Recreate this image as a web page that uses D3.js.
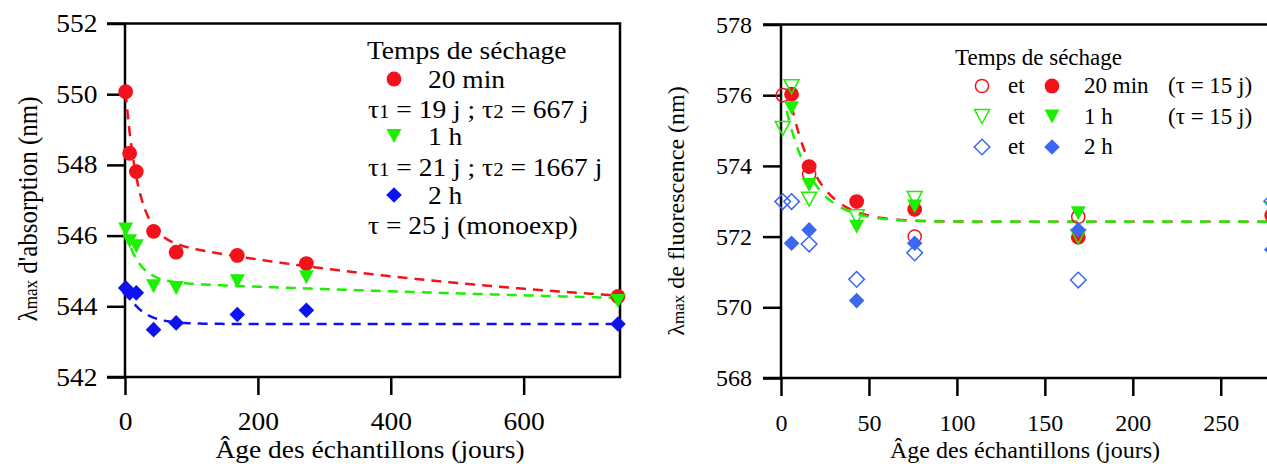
<!DOCTYPE html>
<html><head><meta charset="utf-8">
<script src="https://cdn.jsdelivr.net/npm/d3@7"></script>
<style>
body{margin:0;background:#fff}
svg{display:block}
svg text{font-family:"Liberation Serif","Times New Roman",serif;fill:#000}
</style></head><body>
<svg id="c" width="1267" height="464"></svg>
<script>
// ---------- Left panel: absorption ----------
const absDays = [1, 7, 17, 43, 77, 169, 273, 742];
const abs20min = [550.07, 548.33, 547.81, 546.12, 545.53, 545.44, 545.21, 544.28];
const abs1h    = [546.17, 545.84, 545.70, 544.57, 544.52, 544.71, 544.82, 544.15];
const abs2h    = [544.52, 544.38, 544.38, 543.34, 543.53, 543.77, 543.89, 543.50];
const absXTicks = [0, 200, 400, 600];
const absYTicks = [542, 544, 546, 548, 550, 552];
// fit parameters: [y0, A1, tau1, A2, tau2]
const absFit20min = [543.49, 4.31, 19, 2.476, 667];
const absFit1h    = [543.41, 1.47, 21, 1.29, 1667];
const absFit2h    = [543.50, 1.00, 25, 0, 1];

// ---------- Right panel: fluorescence ----------
const fluoDays = [1, 6, 16, 43, 76, 169, 279];
const fluoOpen20min   = [576.00, null, 573.77, null, 572.00, 572.56, null];
const fluoFilled20min = [null, 576.03, 573.98, 572.99, 572.77, 571.98, 572.60];
const fluoOpen1h      = [575.06, 576.24, 573.06, 572.56, 573.08, 572.00, null];
const fluoFilled1h    = [null, 575.63, 573.46, 572.28, 572.85, 572.66, 572.80];
const fluoOpen2h      = [572.99, 572.99, 571.79, 570.79, 571.54, 570.77, 573.00];
const fluoFilled2h    = [null, 571.81, 572.19, 570.19, 571.81, 572.19, 571.63];
const fluoXTicks = [0, 50, 100, 150, 200, 250];
const fluoYTicks = [568, 570, 572, 574, 576, 578];
// fit parameters: [y0, A, tau, tStart]
const fluoFit20min = [572.42, 4.9, 15, 6];
const fluoFit1h    = [572.42, 3.9, 15, 2];

const RED = "#f2121c", GREEN = "#1cf000", BLUE = "#0c12f2", BLUE2 = "#3a68f2";
const FS = 24, FSL = 25, SX = 1.1;
const FONT = '"Liberation Serif", "Times New Roman", serif';

const svg = d3.select("#c");

function markerPath(kind) {
  if (kind === "tri") { const w = 7.5, h = 7; return `M${-w},${-h}L${w},${-h}L0,${h}Z`; }
  if (kind === "dia") { const s = 7.8; return `M0,${-s}L${s},0L0,${s}L${-s},0Z`; }
  return null;
}
function drawMarker(g, x, y, kind, color, open) {
  let el;
  if (kind === "circ") {
    el = g.append("circle").attr("cx", x).attr("cy", y).attr("r", open ? 6.6 : 7.4);
  } else {
    el = g.append("path").attr("d", markerPath(kind)).attr("transform", `translate(${x},${y})`);
  }
  if (open) el.attr("fill", "none").attr("stroke", color).attr("stroke-width", 1.5);
  else el.attr("fill", color).attr("stroke", "none");
}
function styleAxis(g, stretch, size) {
  g.attr("font-size", size).style("font-family", FONT);
  g.select(".domain").remove();
  g.selectAll(".tick line").attr("stroke", "#000").attr("stroke-width", 2.5);
  g.selectAll(".tick text").attr("fill", "#000").style("font-family", FONT);
  if (stretch) {
    g.selectAll(".tick text").each(function () {
      const t = d3.select(this);
      const x = +t.attr("x") || 0, y = +t.attr("y") || 0;
      t.attr("x", 0).attr("y", 0).attr("transform", `translate(${x * SX},${y}) scale(${SX},1)`);
    });
  }
}
function stretchedText(g, x, y, size) {
  return g.append("text").attr("transform", `translate(${x},${y}) scale(${SX},1)`)
    .attr("font-size", size || FSL).style("font-family", FONT);
}
function plainText(g, x, y, size) {
  return g.append("text").attr("x", x).attr("y", y).attr("font-size", size || FS).style("font-family", FONT);
}

// ================= LEFT PANEL =================
const xL = d3.scaleLinear().domain([0, 745]).range([125, 620]);
const yL = d3.scaleLinear().domain([542, 552]).range([377, 23.5]);
const gL = svg.append("g");

gL.append("g").attr("transform", "translate(125,0)")
  .call(d3.axisLeft(yL).tickValues(absYTicks).tickSize(18).tickPadding(7).tickFormat(d3.format("d")))
  .call(g => styleAxis(g, true, FSL));
gL.append("g").attr("transform", "translate(0,377)")
  .call(d3.axisBottom(xL).tickValues(absXTicks).tickSize(18).tickPadding(17).tickFormat(d3.format("d")))
  .call(g => styleAxis(g, true, FSL));
gL.append("path").attr("d", `M${xL(0) - 18},${yL(552)}H${xL(745)}V${yL(542)}H${xL(0) - 18}M${xL(0)},${yL(552)}V${yL(542)}`)
  .attr("fill", "none").attr("stroke", "#000").attr("stroke-width", 2.5);

const absT = d3.range(1, 742.5, 1);
function biexp(p) { return t => p[0] + p[1] * Math.exp(-t / p[2]) + p[3] * Math.exp(-t / p[4]); }
[[absFit20min, RED], [absFit1h, GREEN], [absFit2h, BLUE]].forEach(([p, c]) => {
  const f = biexp(p);
  gL.append("path").datum(absT)
    .attr("d", d3.line().x(t => xL(t)).y(t => yL(f(t))))
    .attr("fill", "none").attr("stroke", c).attr("stroke-width", 2.5).attr("stroke-dasharray", "10,7");
});
[[abs20min, "circ", RED], [abs1h, "tri", GREEN], [abs2h, "dia", BLUE]].forEach(([vals, k, c]) => {
  vals.forEach((v, i) => drawMarker(gL, xL(absDays[i]), yL(v), k, c, false));
});

gL.append("text").attr("transform", `translate(37,209) scale(${SX},1) rotate(-90)`)
  .attr("text-anchor", "middle").attr("font-size", FSL).style("font-family", FONT)
  .call(t => { t.append("tspan").text("λ"); t.append("tspan").attr("font-size", 17).text("max"); t.append("tspan").text(" d'absorption (nm)"); });
stretchedText(gL, 370, 458).attr("text-anchor", "middle").text("Âge des échantillons (jours)");

stretchedText(gL, 367, 59).text("Temps de séchage");
drawMarker(gL, 394, 79, "circ", RED, false);
stretchedText(gL, 428, 88).text("20 min");
stretchedText(gL, 368, 118).call(t => {
  t.append("tspan").text("τ"); t.append("tspan").attr("font-size", 19).text("1");
  t.append("tspan").text(" = 19 j ; τ"); t.append("tspan").attr("font-size", 19).text("2");
  t.append("tspan").text(" = 667 j");
});
drawMarker(gL, 394, 136, "tri", GREEN, false);
stretchedText(gL, 428, 145).text("1 h");
stretchedText(gL, 368, 176).call(t => {
  t.append("tspan").text("τ"); t.append("tspan").attr("font-size", 19).text("1");
  t.append("tspan").text(" = 21 j ; τ"); t.append("tspan").attr("font-size", 19).text("2");
  t.append("tspan").text(" = 1667 j");
});
drawMarker(gL, 394, 195, "dia", BLUE, false);
stretchedText(gL, 428, 204).text("2 h");
stretchedText(gL, 368, 234).text("τ = 25 j (monoexp)");

// ================= RIGHT PANEL =================
const xR = d3.scaleLinear().domain([0, 278]).range([781, 1270]);
const yR = d3.scaleLinear().domain([568, 578]).range([378, 24.5]);
const gR = svg.append("g");

gR.append("g").attr("transform", "translate(781,0)")
  .call(d3.axisLeft(yR).tickValues(fluoYTicks).tickSize(18).tickPadding(11).tickFormat(d3.format("d")))
  .call(g => styleAxis(g, false, FS));
gR.append("g").attr("transform", "translate(0,378)")
  .call(d3.axisBottom(xR).tickValues(fluoXTicks).tickSize(18).tickPadding(18).tickFormat(d3.format("d")))
  .call(g => styleAxis(g, false, FS));
gR.append("path").attr("d", `M${xR(0) - 18},${yR(578)}H${xR(278)}V${yR(568)}H${xR(0) - 18}M${xR(0)},${yR(578)}V${yR(568)}`)
  .attr("fill", "none").attr("stroke", "#000").attr("stroke-width", 2.5);

function monoexp(p) { return t => p[0] + p[1] * Math.exp(-t / p[2]); }
[[fluoFit20min, RED, 0], [fluoFit1h, GREEN, 9]].forEach(([p, c, off]) => {
  const f = monoexp(p);
  const ts = d3.range(p[3], 280.5, 0.5);
  gR.append("path").datum(ts)
    .attr("d", d3.line().x(t => xR(t)).y(t => yR(f(t))))
    .attr("fill", "none").attr("stroke", c).attr("stroke-width", 2.5)
    .attr("stroke-dasharray", "10,9").attr("stroke-dashoffset", off);
});

[[fluoOpen20min, "circ", RED, true], [fluoFilled20min, "circ", RED, false],
 [fluoOpen1h, "tri", GREEN, true], [fluoFilled1h, "tri", GREEN, false],
 [fluoOpen2h, "dia", BLUE2, true], [fluoFilled2h, "dia", BLUE2, false]].forEach(([vals, k, c, o]) => {
  vals.forEach((v, i) => { if (v !== null) drawMarker(gR, xR(fluoDays[i]), yR(v), k, c, o); });
});

gR.append("text").attr("transform", "translate(684,211) rotate(-90)")
  .attr("text-anchor", "middle").attr("font-size", FS).style("font-family", FONT)
  .call(t => { t.append("tspan").text("λ"); t.append("tspan").attr("font-size", 17).text("max"); t.append("tspan").text(" de fluorescence (nm)"); });
plainText(gR, 1025, 458).attr("text-anchor", "middle").text("Âge des échantillons (jours)");

const legR = [["circ", RED, "20 min", "(τ = 15 j)"], ["tri", GREEN, "1 h", "(τ = 15 j)"], ["dia", BLUE2, "2 h", ""]];
plainText(gR, 955, 65, 23).text("Temps de séchage");
legR.forEach(([k, c, lab, tau], i) => {
  const cy = 86 + i * 30.5, by = cy + 7;
  drawMarker(gR, 982, cy, k, c, true);
  plainText(gR, 1008, by, 23).text("et");
  drawMarker(gR, 1052, cy, k, c, false);
  plainText(gR, 1084, by, 23).text(lab);
  if (tau) plainText(gR, 1168, by, 23).text(tau);
});
</script>
</body></html>
